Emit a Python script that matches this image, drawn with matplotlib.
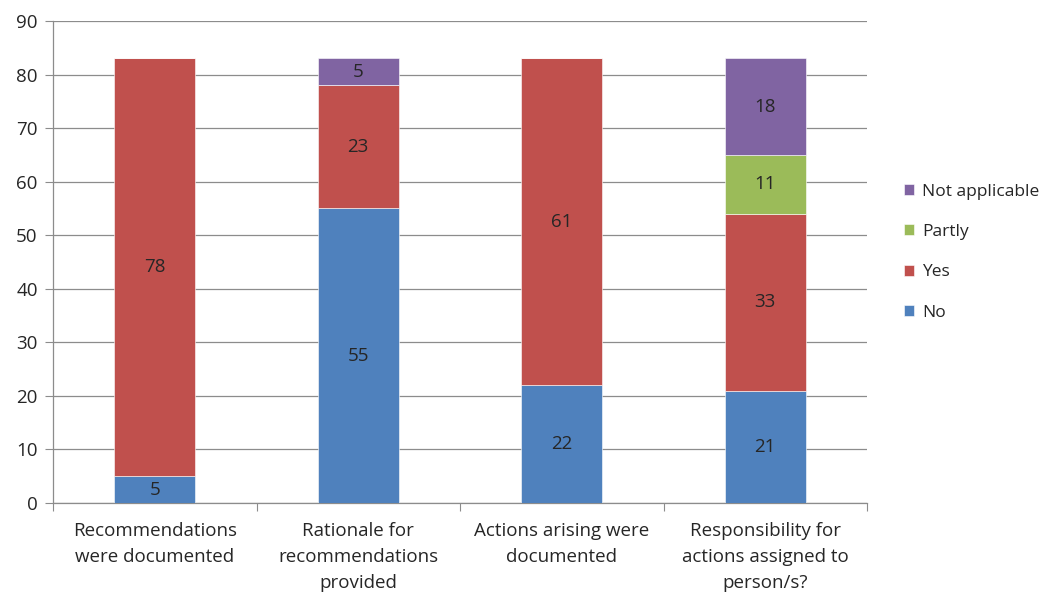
import matplotlib
matplotlib.use("Agg")
import matplotlib.pyplot as plt
import numpy as np

categories = [
    "Recommendations\nwere documented",
    "Rationale for\nrecommendations\nprovided",
    "Actions arising were\ndocumented",
    "Responsibility for\nactions assigned to\nperson/s?",
]
no_vals = [5, 55, 22, 21]
yes_vals = [78, 23, 61, 33]
partly_vals = [0, 0, 0, 11]
na_vals = [0, 5, 0, 18]
y_ticks = [0, 10, 20, 30, 40, 50, 60, 70, 80, 90]

series = [
    ("No", no_vals, "#4F81BD"),
    ("Yes", yes_vals, "#C0504D"),
    ("Partly", partly_vals, "#9BBB59"),
    ("Not applicable", na_vals, "#8064A2"),
]

plt.rcParams["font.family"] = ["Open Sans", "DejaVu Sans"]
text_color = "#262626"
fs = 13.5

fig = plt.figure(figsize=(10.53, 5.96), dpi=100)
ax = fig.add_axes([53 / 1053, 93 / 596, 814 / 1053, 482 / 596])

x = np.arange(len(categories))
bottom = np.zeros(len(categories))
handles = []
for name, vals, color in series:
    vals = np.array(vals, dtype=float)
    bars = ax.bar(x, vals, width=0.4, bottom=bottom, color=color,
                  edgecolor="white", linewidth=0.4, zorder=3, label=name)
    for xi, b, v in zip(x, bottom, vals):
        if v > 0:
            ax.text(xi, b + v / 2, f"{int(v)}", ha="center", va="center",
                    fontsize=fs, color=text_color, zorder=4)
    bottom += vals
    handles.append(bars)

ax.set_xlim(-0.5, len(categories) - 0.5)
ax.set_ylim(0, 90)
ax.set_yticks(y_ticks)
ax.yaxis.grid(True, color="#8C8C8C", linewidth=0.9, zorder=0)
ax.set_axisbelow(True)

for side in ["top", "right"]:
    ax.spines[side].set_visible(False)
for side in ["left", "bottom"]:
    ax.spines[side].set_color("#8C8C8C")
    ax.spines[side].set_linewidth(0.9)

ax.tick_params(axis="y", length=6, color="#8C8C8C", labelsize=fs,
               labelcolor=text_color, pad=5)
# category boundaries carry the tick marks, labels sit at bar centres
ax.set_xticks(np.arange(-0.5, len(categories), 1.0))
ax.set_xticklabels([])
ax.tick_params(axis="x", which="major", length=6, color="#8C8C8C")
ax.set_xticks(x, minor=True)
ax.set_xticklabels(categories, minor=True, fontsize=fs, color=text_color,
                   linespacing=1.55)
ax.tick_params(axis="x", which="minor", length=0, pad=14)

leg = fig.legend(handles[::-1], [s[0] for s in series][::-1],
                 loc="center left", bbox_to_anchor=(0.8435, 0.577),
                 frameon=False, fontsize=12.5, handlelength=0.6,
                 handleheight=0.6, handletextpad=0.45, labelspacing=1.4)
for t in leg.get_texts():
    t.set_color(text_color)

fig.savefig("out.png", dpi=100)
